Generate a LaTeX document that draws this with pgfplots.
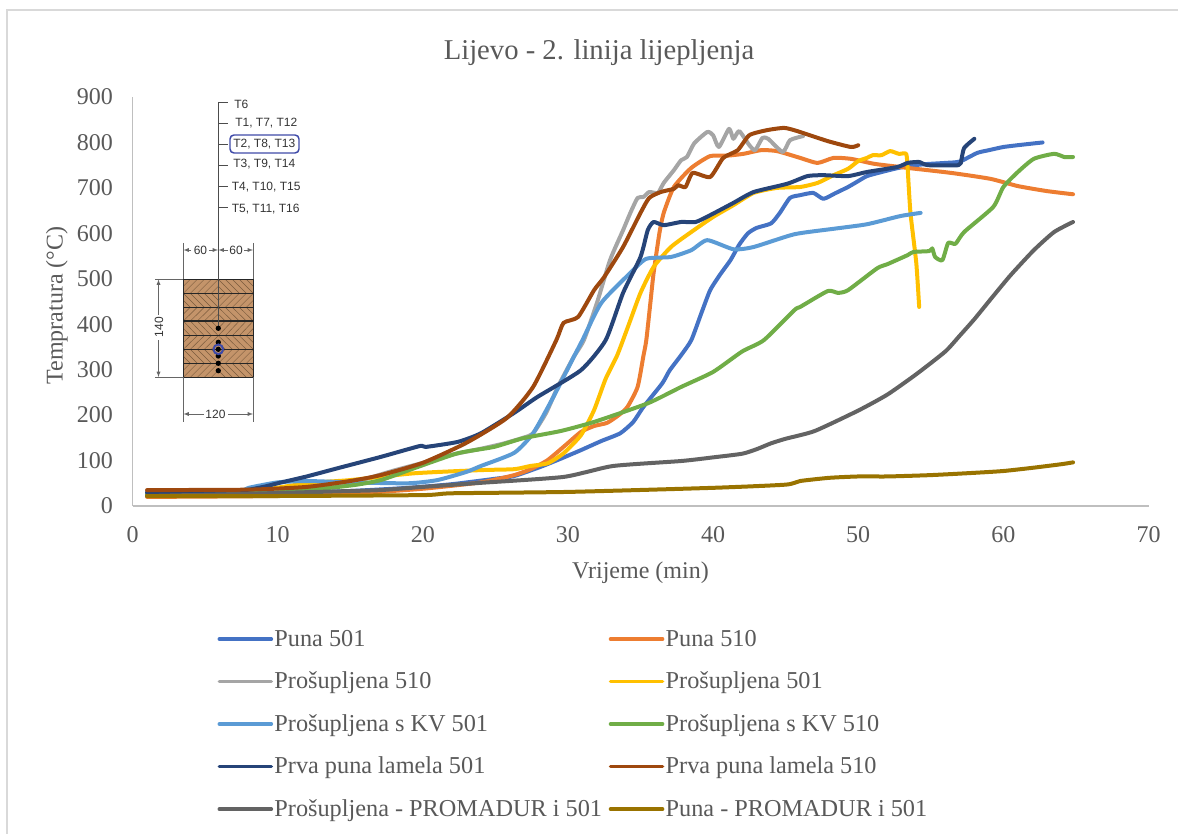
\documentclass[border=0pt]{standalone}
\usepackage{pgfplots}
\pgfplotsset{compat=1.18}
\usepackage{fontspec}
\setmainfont{Liberation Serif}
\newfontfamily\insetfont{Liberation Sans}
\definecolor{c1}{HTML}{4472C4}
\definecolor{c2}{HTML}{ED7D31}
\definecolor{c3}{HTML}{A5A5A5}
\definecolor{c4}{HTML}{FFC000}
\definecolor{c5}{HTML}{5B9BD5}
\definecolor{c6}{HTML}{70AD47}
\definecolor{c7}{HTML}{264478}
\definecolor{c8}{HTML}{9E480E}
\definecolor{c9}{HTML}{636363}
\definecolor{c10}{HTML}{997300}
\definecolor{txt}{HTML}{595959}
\definecolor{axl}{HTML}{BFBFBF}
\definecolor{frm}{HTML}{D9D9D9}
\definecolor{wood}{HTML}{C4946A}
\definecolor{hatch}{HTML}{7A5A3C}
\definecolor{ring}{HTML}{3F4AA8}
\begin{document}
\begin{tikzpicture}[x=0.75pt,y=-0.75pt]
\path[use as bounding box] (0,0) rectangle (1178,834);
\draw[frm,line width=1.5pt] (7,834) -- (7,10) -- (1178,10);
\coordinate (O) at (132.5,506);
\begin{axis}[
  at={(O)}, anchor=south west, scale only axis,
  width=762pt, height=306.75pt,
  xmin=0, xmax=70, ymin=0, ymax=900,
  xtick={0,10,...,70}, ytick={0,100,...,900},
  axis x line=bottom, axis y line=left,
  axis line style={-, axl, line width=1.1pt},
  tick style={draw=none},
  enlargelimits=false, clip=false,
  /pgf/number format/assume math mode=true,
  ticklabel style={text=txt, font=\fontsize{18}{20}\selectfont},
  xticklabel style={yshift=-9.5pt},
  yticklabel style={xshift=-9pt},
  xlabel={Vrijeme (min)}, ylabel={Tempratura (°C)},
  label style={text=txt, font=\fontsize{18}{20}\selectfont},
  xlabel style={at={(axis description cs:0.5,0)}, anchor=north, yshift=-38pt},
  ylabel style={at={(axis description cs:0,0.49)}, anchor=south, yshift=45pt},
  legend columns=2,
  legend cell align=left,
  legend style={draw=none, fill=none, text=txt, font=\fontsize{18.2}{20}\selectfont,
    at={(rel axis cs:0.0837,-0.30)}, anchor=north west, inner sep=0pt, outer sep=0pt,
    /tikz/row sep=15.8pt, /tikz/column sep=0pt,
    /tikz/column 2/.style={column sep=4pt},
    nodes={inner sep=1pt}},
  legend image code/.code={\draw[#1, line width=2.7pt, line cap=round] (0pt,0pt) -- (39pt,0pt);},
  every axis plot/.append style={line width=3pt, line join=round, line cap=round, no markers, smooth, tension=0.35},
]
\addplot[c1] coordinates {(1,25)(7,27)(12,30)(15,33)(19,40)(22,48)(25,60)(26.3,66)(28.1,86)(29.5,104)(30.9,123)(32.3,143)(33.6,160)(34.5,185)(35.2,218)(36.5,270)(37,298)(37.8,332)(38.5,365)(39.2,425)(39.8,475)(40.5,510)(41.2,541)(41.8,575)(42.4,600)(43,612)(44,622)(44.6,645)(45.3,678)(46,684)(46.9,689)(47.6,676)(48.4,688)(49.3,702)(50,715)(50.6,726)(51.5,734)(52.5,742)(53.4,748)(54.5,752)(56,755)(57,758)(58.2,777)(59,783)(60,790)(61,794)(62.7,800)};
\addplot[c2] coordinates {(1,20)(10,22)(15,27)(20,38)(24,52)(26.3,68)(27.5,82)(28.6,101)(29.8,133)(30.9,163)(31.8,176)(32.7,183)(33.5,200)(34.1,218)(34.8,262)(35.2,330)(35.4,365)(35.7,453)(35.9,512)(36.3,600)(36.6,645)(37.3,702)(38.5,744)(39.8,770)(41,771)(42.1,775)(43.3,783)(44.4,781)(46,766)(47.2,755)(48.3,766)(49.5,764)(51.1,753)(52.9,746)(53.4,744)(56.4,733)(59.1,720)(61,704)(63,693)(64.8,686)};
\addplot[c3] coordinates {(1,25)(8,27)(12,33)(15,50)(18,78)(20,95)(22,113)(24,126)(25.5,137)(26.9,150)(27.6,160)(28.5,205)(29.3,262)(30.4,328)(31.1,365)(32,447)(32.9,541)(33.8,607)(34.3,645)(34.8,678)(35.2,680)(35.6,691)(36.2,689)(36.6,711)(37.3,739)(37.8,761)(38.2,768)(38.7,798)(39.6,823)(40,816)(40.4,790)(41.1,830)(41.4,808)(41.8,825)(42.5,794)(42.9,783)(43.4,810)(43.8,808)(44.8,779)(45.3,805)(46.2,814)};
\addplot[c4] coordinates {(1,25)(8,32)(12,50)(15,57)(19.4,72)(24,79)(26.3,81)(27.4,88)(28.6,94)(29.7,116)(30.9,156)(31.8,211)(32.6,280)(33.4,332)(34.2,400)(35,469)(35.9,526)(37.1,570)(38.5,603)(40,636)(41.4,662)(42.8,689)(44.4,700)(46,702)(47.2,711)(48.3,728)(49.3,742)(50,759)(50.6,766)(51,772)(51.6,772)(52.2,781)(52.8,775)(53.3,775)(53.4,746)(53.6,645)(54,535)(54.2,438)};
\addplot[c5] coordinates {(1,25)(7,30)(8,40)(10,52)(12,55)(15,52)(19,50)(21,57)(23,75)(24,88)(26.3,117)(27.6,160)(29,240)(30.4,328)(31,365)(32.3,447)(34.3,513)(35.4,544)(37.1,548)(38.5,563)(39.6,585)(41.4,565)(42.8,570)(45.6,598)(48.3,610)(50.6,620)(52.9,638)(54.3,645)};
\addplot[c6] coordinates {(1,25)(10,30)(15,45)(17.1,57)(19.4,83)(22.4,116)(24.9,130)(26.9,149)(29.5,165)(31.8,185)(35.5,226)(37.8,262)(40,295)(42,340)(43.5,365)(45.6,431)(46,438)(47.9,473)(48.6,469)(49.3,475)(51.3,523)(52,532)(53.4,552)(53.8,559)(54.9,561)(55.1,567)(55.3,548)(55.8,541)(56.2,579)(56.7,577)(57.3,603)(59.3,658)(60,702)(61,735)(62.1,764)(63.5,775)(64.2,768)(64.8,768)};
\addplot[c7] coordinates {(1,30)(7,32)(9,42)(10,50)(12,65)(14,82)(17.1,108)(19.8,132)(20.2,130)(22.4,141)(24,160)(26.3,205)(27.9,240)(30.9,299)(32.6,365)(33.8,469)(35,548)(35.5,607)(35.9,625)(36.6,618)(37.8,625)(38.8,625)(39.8,640)(41.4,667)(42.8,691)(45.1,709)(46.5,726)(47.6,728)(49.3,726)(50.6,735)(52.7,746)(53.4,755)(54.2,757)(54.8,750)(56.9,750)(57.1,761)(57.3,788)(58,808)};
\addplot[c8] coordinates {(1,35)(8,36)(12,42)(15,55)(17.1,68)(20,95)(23,139)(25.8,194)(27.6,262)(29.2,365)(29.7,403)(30.7,416)(31.8,475)(32.5,504)(33.8,570)(35,645)(35.6,678)(36.4,691)(37.3,698)(37.6,706)(38.1,702)(38.6,733)(39.8,724)(40.7,766)(41.7,783)(42.5,816)(43.7,827)(44.9,832)(45.8,825)(47.9,803)(49.5,790)(50,794)};
\addplot[c9] coordinates {(1,22)(8,27)(15,33)(17.1,35)(20,42)(24,51)(29.7,64)(33.1,88)(37.8,99)(40,107)(42,115)(43,125)(44,138)(45,148)(47,165)(50,210)(52,245)(54,290)(56,340)(57,375)(58,411)(59.2,458)(60.5,508)(62.1,563)(63.5,603)(64.8,625)};
\addplot[c10] coordinates {(1,22)(10,22)(20,24)(22,28)(30,31)(40,40)(45,47)(46,55)(48,62)(50,65)(52,65)(55,68)(58,73)(60,77)(62,84)(64,92)(64.8,96)};
\legend{Puna 501,Puna 510,Prošupljena 510,Prošupljena 501,Prošupljena s KV 501,Prošupljena s KV 510,Prva puna lamela 501,Prva puna lamela 510,Prošupljena - PROMADUR i 501,Puna - PROMADUR i 501}
\end{axis}
% title
\node[text=txt, font=\fontsize{21.5}{24}\selectfont] at (599,53) {Lijevo - 2. linija lijepljenja};
% inset: wood cross-section
\fill[wood] (183.3,279.3) rectangle (253.3,377.3);
\foreach \a/\b/\s in {279.3/293.3/1,293.3/307.3/-1,307.3/321/1,321/335.7/-1,335.7/349.3/1,349.3/363.3/-1,363.3/377.3/1}{
  \begin{scope}
    \clip (183.3,\a) rectangle (218.3,\b);
    \foreach \k in {-4,...,9}{\draw[hatch,line width=0.35pt] ({183.3+\k*7},\b) -- ({183.3+\k*7+\s*14},\a);}
  \end{scope}
  \begin{scope}
    \clip (218.3,\a) rectangle (253.3,\b);
    \foreach \k in {-4,...,9}{\draw[hatch,line width=0.35pt] ({218.3+\k*7},\b) -- ({218.3+\k*7-\s*14},\a);}
  \end{scope}
}
\foreach \a in {293.3,307.3,321,335.7,349.3,363.3}{\draw[black!85,line width=1.1pt] (183.3,\a) -- (253.3,\a);}
\draw[black!85,line width=1.1pt] (183.3,279.3) rectangle (253.3,377.3);
\draw[black!70,line width=0.4pt] (218.3,102) -- (218.3,330);
\foreach \y in {102.3,123.3,144,165.3,186.7,207.3}{\draw[black!70,line width=0.4pt] (218.3,\y) -- (228,\y);}
\foreach \x/\y/\t in {234/104/T6,235/123.3/{T1, T7, T12},233/144/{T2, T8, T13},233/164/{T3, T9, T14},231.5/187/{T4, T10, T15},231.5/209/{T5, T11, T16}}{
  \node[anchor=west,inner sep=0pt,text=black!80,font=\insetfont\fontsize{9}{10}\selectfont] at (\x,\y) {\t};}
\draw[ring,line width=1.1pt,rounded corners=3pt] (230,135) rectangle (299,153);
% dimensions
\foreach \x in {183.3,253.3}{\draw[black!60,line width=0.4pt] (\x,243) -- (\x,279); \draw[black!60,line width=0.4pt] (\x,377) -- (\x,421.5);}
\draw[black!60,line width=0.4pt] (155,279.3) -- (183,279.3) (155,377.3) -- (183,377.3);
\draw[black!60,line width=0.4pt,-latex] (191,250) -- (183.5,250);
\draw[black!60,line width=0.4pt,-latex] (209,250) -- (218,250);
\draw[black!60,line width=0.4pt,-latex] (228,250) -- (218.5,250);
\draw[black!60,line width=0.4pt,-latex] (244,250) -- (253,250);
\draw[black!60,line width=0.4pt,-latex] (204,414) -- (183.5,414);
\draw[black!60,line width=0.4pt,-latex] (228,414) -- (253,414);
\draw[black!60,line width=0.4pt,-latex] (158.5,315) -- (158.5,279.5);
\draw[black!60,line width=0.4pt,-latex] (158.5,340) -- (158.5,377);
\foreach \x/\y/\t in {200.5/250/60,236/250/60,215.5/414/120}{\node[inner sep=0pt,text=black!80,font=\insetfont\fontsize{9}{10}\selectfont] at (\x,\y) {\t};}
\node[rotate=90,inner sep=0pt,text=black!80,font=\insetfont\fontsize{9}{10}\selectfont] at (159,327) {140};
\foreach \y in {328.3,342.3,349.3,356,363.3,370.7}{\fill[black] (218.3,\y) circle[radius=2.0pt];}
\draw[ring,line width=1.5pt] (218.3,349.3) circle[radius=3.6pt];
\end{tikzpicture}
\end{document}
